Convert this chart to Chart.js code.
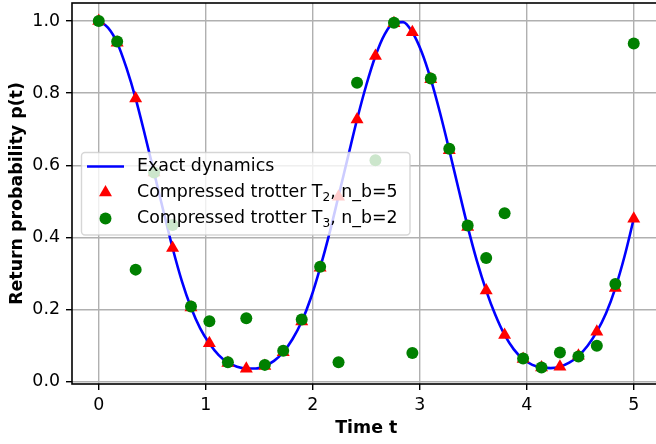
<!DOCTYPE html>
<html>
<head>
<meta charset="utf-8">
<script src="https://cdn.jsdelivr.net/npm/chart.js@4.4.0/dist/chart.umd.min.js"></script>
<style>
  html, body { margin: 0; padding: 0; background: #fff; }
  #wrap { width: 656px; height: 444px; overflow: hidden; position: relative; }
  canvas { display: block; }
</style>
</head>
<body>
<div id="wrap"><canvas id="chart" width="670" height="444" style="width:670px;height:444px"></canvas></div>
<script>
// exact curve
var exactTime = [0, 0.086, 0.172, 0.259, 0.345, 0.431, 0.517, 0.603, 0.690, 0.776,
  0.862, 0.948, 1.034, 1.121, 1.207, 1.293, 1.379, 1.466, 1.552, 1.638,
  1.724, 1.810, 1.897, 1.983, 2.069, 2.155, 2.241, 2.328, 2.414, 2.500,
  2.586, 2.672, 2.759, 2.845, 2.931, 3.017, 3.103, 3.190, 3.276, 3.362,
  3.448, 3.534, 3.621, 3.707, 3.793, 3.879, 3.966, 4.052, 4.138, 4.224,
  4.310, 4.397, 4.483, 4.569, 4.655, 4.741, 4.828, 4.914, 5.0];
var exactProb = [1.0, 0.982, 0.94, 0.87, 0.785, 0.685, 0.58, 0.475, 0.371, 0.28,
  0.206, 0.148, 0.106, 0.074, 0.053, 0.042, 0.037, 0.037, 0.044, 0.058,
  0.082, 0.118, 0.167, 0.233, 0.316, 0.41, 0.515, 0.622, 0.727, 0.822,
  0.903, 0.963, 0.995, 0.997, 0.969, 0.915, 0.839, 0.745, 0.642, 0.535,
  0.43, 0.335, 0.253, 0.185, 0.13, 0.09, 0.063, 0.047, 0.04, 0.038,
  0.042, 0.053, 0.072, 0.1, 0.139, 0.19, 0.26, 0.348, 0.452];

// sampled times of the compressed circuits
var sampleTime = [0, 0.172, 0.345, 0.517, 0.690, 0.862, 1.034, 1.207, 1.379, 1.552,
  1.724, 1.897, 2.069, 2.241, 2.414, 2.586, 2.759, 2.931, 3.103, 3.276,
  3.448, 3.621, 3.793, 3.966, 4.138, 4.310, 4.483, 4.655, 4.828, 5.0];
var trotterT2 = [1.0, 0.94, 0.785, 0.58, 0.371, 0.206, 0.107, 0.052, 0.036, 0.044,
  0.082, 0.167, 0.316, 0.513, 0.727, 0.903, 0.994, 0.969, 0.839, 0.642,
  0.429, 0.253, 0.130, 0.063, 0.040, 0.042, 0.072, 0.139, 0.260, 0.452];
var trotterT3 = [1.0, 0.943, 0.311, 0.58, 0.435, 0.209, 0.168, 0.054, 0.176, 0.047,
  0.086, 0.173, 0.319, 0.054, 0.829, 0.614, 0.995, 0.080, 0.841, 0.646,
  0.433, 0.343, 0.467, 0.065, 0.040, 0.081, 0.070, 0.100, 0.271, 0.938];

var xTicks = [0, 1, 2, 3, 4, 5];
var yTicks = [0, 0.2, 0.4, 0.6, 0.8, 1.0];

var FONT = 'DejaVu Sans';
var FS = 17.4;
Chart.defaults.font.family = FONT;
Chart.defaults.font.size = FS;
Chart.defaults.color = '#000';

function pts(xs, ys) {
  return xs.map(function (x, i) { return { x: x, y: ys[i] }; });
}

// frame around the plot area (matplotlib spines)
var framePlugin = {
  id: 'frame',
  afterDatasetsDraw: function (chart) {
    var a = chart.chartArea, ctx = chart.ctx;
    ctx.save();
    ctx.strokeStyle = '#000';
    ctx.lineWidth = 1.6;
    ctx.strokeRect(a.left, a.top, a.right - a.left, a.bottom - a.top);
    ctx.restore();
  }
};

// legend box drawn inside the axes, like matplotlib
var legendPlugin = {
  id: 'innerLegend',
  afterDraw: function (chart) {
    var ctx = chart.ctx;
    var bx = 81.5, by = 152.5, bw = 328.5, bh = 82.5, r = 3.5;
    ctx.save();
    ctx.beginPath();
    ctx.moveTo(bx + r, by);
    ctx.arcTo(bx + bw, by, bx + bw, by + bh, r);
    ctx.arcTo(bx + bw, by + bh, bx, by + bh, r);
    ctx.arcTo(bx, by + bh, bx, by, r);
    ctx.arcTo(bx, by, bx + bw, by, r);
    ctx.closePath();
    ctx.fillStyle = 'rgba(255,255,255,0.8)';
    ctx.fill();
    ctx.strokeStyle = 'rgba(204,204,204,0.8)';
    ctx.lineWidth = 1.4;
    ctx.stroke();

    var hx0 = 87, hx1 = 124, hc = (hx0 + hx1) / 2, tx = 137;
    var rows = [166.5, 192.5, 218.5];

    ctx.strokeStyle = '#0000ff';
    ctx.lineWidth = 2.6;
    ctx.beginPath();
    ctx.moveTo(hx0, rows[0]);
    ctx.lineTo(hx1, rows[0]);
    ctx.stroke();

    // triangle
    var tr = 7.5;
    ctx.fillStyle = '#ff0000';
    ctx.beginPath();
    ctx.moveTo(hc, rows[1] - tr);
    ctx.lineTo(hc + tr * 0.866, rows[1] + tr * 0.5);
    ctx.lineTo(hc - tr * 0.866, rows[1] + tr * 0.5);
    ctx.closePath();
    ctx.fill();

    // circle
    ctx.fillStyle = '#008000';
    ctx.beginPath();
    ctx.arc(hc, rows[2], 6, 0, Math.PI * 2);
    ctx.fill();

    ctx.fillStyle = '#000';
    ctx.textBaseline = 'middle';
    ctx.textAlign = 'left';
    ctx.font = FS + 'px "' + FONT + '"';
    ctx.fillText('Exact dynamics', tx, rows[0]);

    var labels = [['Compressed trotter T', '2', ', n_b=5'], ['Compressed trotter T', '3', ', n_b=2']];
    labels.forEach(function (lab, k) {
      var y = rows[k + 1];
      ctx.font = FS + 'px "' + FONT + '"';
      ctx.fillText(lab[0], tx, y);
      var x = tx + ctx.measureText(lab[0]).width;
      ctx.font = (FS * 0.7) + 'px "' + FONT + '"';
      ctx.fillText(lab[1], x, y + 5);
      x += ctx.measureText(lab[1]).width;
      ctx.font = FS + 'px "' + FONT + '"';
      ctx.fillText(lab[2], x, y);
    });
    ctx.restore();
  }
};

var ctx = document.getElementById('chart').getContext('2d');
var chart = new Chart(ctx, {
  type: 'scatter',
  data: {
    datasets: [
      {
        label: 'Exact dynamics',
        data: pts(exactTime, exactProb),
        showLine: true,
        borderColor: '#0000ff',
        borderWidth: 2.6,
        pointRadius: 0,
        cubicInterpolationMode: 'monotone',
        order: 3
      },
      {
        label: 'Compressed trotter T2, n_b=5',
        data: pts(sampleTime, trotterT2),
        pointStyle: 'triangle',
        pointRadius: 7.5,
        backgroundColor: '#ff0000',
        borderColor: '#ff0000',
        borderWidth: 0,
        order: 2
      },
      {
        label: 'Compressed trotter T3, n_b=2',
        data: pts(sampleTime, trotterT3),
        pointStyle: 'circle',
        pointRadius: 6,
        backgroundColor: '#008000',
        borderColor: '#008000',
        borderWidth: 0,
        order: 1
      }
    ]
  },
  options: {
    responsive: false,
    animation: false,
    devicePixelRatio: 1,
    layout: { autoPadding: false, padding: { left: 0, top: 3, right: 9.5, bottom: 0 } },
    plugins: {
      legend: { display: false },
      tooltip: { enabled: false }
    },
    scales: {
      x: {
        type: 'linear',
        min: -0.25,
        max: 5.25,
        afterBuildTicks: function (s) { s.ticks = xTicks.map(function (v) { return { value: v }; }); },
        afterFit: function (s) { s.height = 60; s.paddingLeft = 0; s.paddingRight = 0; },
        ticks: { padding: 5, maxRotation: 0, callback: function (v) { return String(v); } },
        grid: { color: '#b0b0b0', lineWidth: 1.4, tickColor: '#000', tickLength: 6, tickWidth: 1.4 },
        border: { display: false },
        title: { display: true, text: 'Time t', font: { weight: 'bold', size: FS }, padding: { top: 0, bottom: 5 } }
      },
      y: {
        type: 'linear',
        min: -0.006,
        max: 1.05,
        afterBuildTicks: function (s) { s.ticks = yTicks.map(function (v) { return { value: v }; }); },
        afterFit: function (s) { s.width = 72; s.paddingTop = 0; s.paddingBottom = 0; },
        ticks: { padding: 6, callback: function (v) { return v.toFixed(1); } },
        grid: { color: '#b0b0b0', lineWidth: 1.4, tickColor: '#000', tickLength: 6, tickWidth: 1.4 },
        border: { display: false },
        title: { display: true, text: 'Return probability p(t)', font: { weight: 'bold', size: FS }, padding: { top: 7, bottom: 0 } }
      }
    }
  },
  plugins: [framePlugin, legendPlugin]
});
</script>
</body>
</html>
